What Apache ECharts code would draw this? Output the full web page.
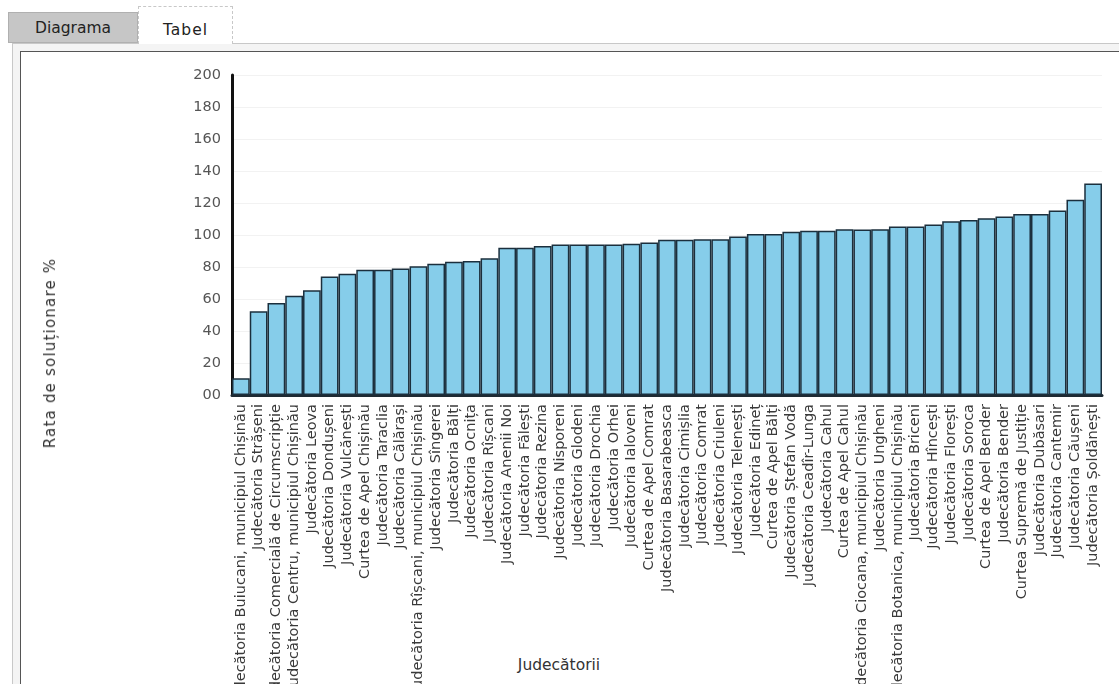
<!DOCTYPE html>
<html>
<head>
<meta charset="utf-8">
<script src="https://cdn.jsdelivr.net/npm/echarts@6/dist/echarts.min.js"></script>
<style>
  html, body { margin: 0; padding: 0; width: 1119px; height: 684px; overflow: hidden; background: #ffffff; font-family: "DejaVu Sans", Verdana, sans-serif; }
  .tab1 { position: absolute; left: 8px; top: 12px; width: 130px; height: 31px; background: #c6c6c6; border: 1px solid #b0b0b0; box-sizing: border-box; font-size: 15.5px; color: #222; text-align: center; line-height: 31px; }
  .tab2 { position: absolute; left: 138px; top: 6px; width: 95px; height: 38px; background: #ffffff; border: 1px dashed #c8c8c8; border-bottom: none; box-sizing: border-box; font-size: 15.5px; color: #222; text-align: center; line-height: 46px; letter-spacing: 1px; }
  .outer { position: absolute; left: 12px; top: 43px; width: 1120px; height: 660px; border: 1px solid #c8c8c8; box-sizing: border-box; background: #f4f4f4; }
  .inner { position: absolute; left: 20px; top: 51px; width: 1110px; height: 650px; border: 1px solid #555; box-sizing: border-box; background: #ffffff; }
  #chart { position: absolute; left: 0; top: 0; width: 1119px; height: 684px; }
  .ytitle { position: absolute; left: 50px; top: 353px; transform: translate(-50%, -50%) rotate(-90deg); white-space: nowrap; font-size: 15px; letter-spacing: 1.2px; color: #333; }
  .xtitle { position: absolute; left: 559px; top: 665px; transform: translate(-50%, -50%); white-space: nowrap; font-size: 15.5px; color: #333; background: #fff; padding: 0 3px; }
</style>
</head>
<body>
<div class="outer"></div>
<div class="inner"></div>
<div class="tab1">Diagrama</div>
<div class="tab2">Tabel</div>
<div id="chart"></div>
<div class="ytitle" id="ytitle"></div>
<div class="xtitle" id="xtitle"></div>
<script>
const categories = [
  "Judecătoria Buiucani, municipiul Chișinău",
  "Judecătoria Strășeni",
  "Judecătoria Comercială de Circumscripție",
  "Judecătoria Centru, municipiul Chișinău",
  "Judecătoria Leova",
  "Judecătoria Dondușeni",
  "Judecătoria Vulcănești",
  "Curtea de Apel Chișinău",
  "Judecătoria Taraclia",
  "Judecătoria Călărași",
  "Judecătoria Rîșcani, municipiul Chișinău",
  "Judecătoria Sîngerei",
  "Judecătoria Bălți",
  "Judecătoria Ocnița",
  "Judecătoria Rîșcani",
  "Judecătoria Anenii Noi",
  "Judecătoria Fălești",
  "Judecătoria Rezina",
  "Judecătoria Nisporeni",
  "Judecătoria Glodeni",
  "Judecătoria Drochia",
  "Judecătoria Orhei",
  "Judecătoria Ialoveni",
  "Curtea de Apel Comrat",
  "Judecătoria Basarabeasca",
  "Judecătoria Cimișlia",
  "Judecătoria Comrat",
  "Judecătoria Criuleni",
  "Judecătoria Telenești",
  "Judecătoria Edineț",
  "Curtea de Apel Bălți",
  "Judecătoria Ștefan Vodă",
  "Judecătoria Ceadîr-Lunga",
  "Judecătoria Cahul",
  "Curtea de Apel Cahul",
  "Judecătoria Ciocana, municipiul Chișinău",
  "Judecătoria Ungheni",
  "Judecătoria Botanica, municipiul Chișinău",
  "Judecătoria Briceni",
  "Judecătoria Hîncești",
  "Judecătoria Florești",
  "Judecătoria Soroca",
  "Curtea de Apel Bender",
  "Judecătoria Bender",
  "Curtea Supremă de Justiție",
  "Judecătoria Dubăsari",
  "Judecătoria Cantemir",
  "Judecătoria Căușeni",
  "Judecătoria Șoldănești"
];
const rates = [
  10.4, 52.4, 57.5, 62, 65.4, 74, 75.8, 78.3, 78.3, 79,
  80.4, 82, 83.3, 83.7, 85.4, 92, 92, 93.2, 94, 94,
  94, 94, 94.5, 95.3, 97, 97, 97.4, 97.4, 99, 100.7,
  100.7, 102, 102.6, 102.6, 103.6, 103.5, 103.6, 105.3, 105.3, 106.5,
  108.6, 109.4, 110.5, 111.5, 113.2, 113.2, 115.3, 122, 132.2
];
const yTicks = [0, 20, 40, 60, 80, 100, 120, 140, 160, 180, 200];
const yAxisTitle = "Rata de soluționare %";
const xAxisTitle = "Judecătorii";

document.getElementById('ytitle').textContent = yAxisTitle;
document.getElementById('xtitle').textContent = xAxisTitle;

const chart = echarts.init(document.getElementById('chart'), null, { renderer: 'canvas' });
chart.setOption({
  backgroundColor: 'transparent',
  animation: false,
  textStyle: { fontFamily: 'DejaVu Sans' },
  grid: { left: 232, right: 17, top: 75, bottom: 289, containLabel: false, outerBoundsMode: 'none' },
  xAxis: {
    type: 'category',
    data: categories,
    axisLine: { show: true, lineStyle: { color: '#1e2a33', width: 3 } },
    axisTick: { show: false },
    axisLabel: { interval: 0, rotate: 90, fontSize: 14.5, color: '#3a3a3a', margin: 9, fontFamily: 'DejaVu Sans' }
  },
  yAxis: {
    type: 'value',
    min: yTicks[0],
    max: yTicks[yTicks.length - 1],
    interval: 20,
    axisLine: { show: true, lineStyle: { color: '#111', width: 3 } },
    axisTick: { show: false },
    axisLabel: { fontSize: 14.5, color: '#555', margin: 11, formatter: v => v === 0 ? '00' : String(v), fontFamily: 'DejaVu Sans' },
    splitLine: { show: true, lineStyle: { color: '#f2f2f2', width: 1 } }
  },
  series: [{
    type: 'bar',
    data: rates,
    barCategoryGap: '0%',
    itemStyle: { color: '#86cdea', borderColor: '#1b2f3d', borderWidth: 1.5 }
  }]
});
</script>
</body>
</html>
